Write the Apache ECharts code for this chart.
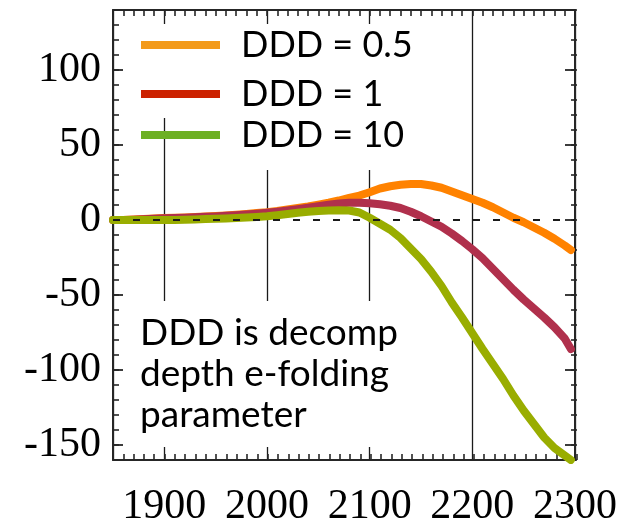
<!DOCTYPE html>
<html>
<head>
<meta charset="utf-8">
<script src="https://cdn.jsdelivr.net/npm/echarts@6.0.0/dist/echarts.min.js"></script>
<style>
  html, body { margin: 0; padding: 0; background: #ffffff; }
  #chart { width: 620px; height: 528px; }
</style>
</head>
<body>
<div id="chart"></div>
<script>
// ---- data ----
const years = [1850,1860,1870,1880,1890,1900,1910,1920,1930,1940,1950,1960,1970,1980,1990,
               2000,2010,2020,2030,2040,2050,2060,2070,2080,2090,2100,2110,2120,2130,2140,
               2150,2160,2170,2180,2190,2200,2210,2220,2230,2240,2250,2260,2270,2280,2290,2296];
const ddd05 = [0,0,0.3,0.6,1,1.3,1.5,1.7,2,2.3,2.6,3,3.5,4,4.6,
               5.2,6,7,8,9,10.2,11.5,13,14.8,16.3,18.5,21,22.5,23.5,24,
               24,23,21.5,19,16.5,14,11.5,8.5,5,1.5,-1.5,-5,-8.5,-12.5,-17,-20];
const ddd1  = [0,0,0.2,0.5,0.8,1.1,1.3,1.5,1.8,2.1,2.4,2.8,3.2,3.7,4.2,
               4.8,5.5,6.3,7.2,8.2,9.2,10.2,11,11.5,11.5,11.2,10.5,9.5,8,5.5,
               2.5,-1,-4.5,-9,-14,-19.5,-25.5,-32.5,-39.5,-46.5,-53,-59,-65,-71.5,-79,-86];
const ddd10 = [0,0,0,0,0,0,0,0.2,0.4,0.6,0.8,1,1.3,1.6,2,
               2.5,3.2,4,4.8,5.5,6,6.3,6.5,6.3,5,1.5,-2.5,-6.5,-12,-19,
               -26,-34.5,-44,-55,-65,-75.5,-86,-96,-106,-117,-127,-136,-145,-152,-157,-160];
const seriesNames = ['DDD = 0.5', 'DDD = 1', 'DDD = 10'];
const xTickLabels = [1900, 2000, 2100, 2200, 2300];
const yTickLabels = [-150, -100, -50, 0, 50, 100];
const noteText = 'DDD is decomp\ndepth e-folding\nparameter';

// ---- styling ----
const lineColors   = ['#FF8200', '#B0304C', '#99AD00'];
const legendColors = ['#F39A1A', '#CC2200', '#6DB024'];
const frame = '#262626';
const G = { left: 113, top: 10, width: 464, height: 450 };
const serifFont = 'Liberation Serif';
const sansFont = 'Lato';

const pairs = v => years.map((y, i) => [y, v[i]]);
const minorTick = { show: true, inside: true, length: 6, lineStyle: { color: frame, width: 1.6 } };
const majorTick = { show: true, inside: true, length: 10, lineStyle: { color: frame, width: 1.8 } };
const frameLine = { show: true, onZero: false, lineStyle: { color: frame, width: 2 } };
const noLine = { show: false, onZero: false };

const chart = echarts.init(document.getElementById('chart'), null, { renderer: 'canvas' });

function legendFor(i, top) {
  return {
    show: true,
    left: 141,
    top: top,
    orient: 'vertical',
    padding: 0,
    icon: 'rect',
    itemWidth: 79,
    itemHeight: 8,
    selectedMode: false,
    itemStyle: { borderWidth: 0 },
    textStyle: { fontFamily: sansFont, fontSize: 36, color: '#000', lineHeight: 40, padding: [0, 0, 0, 16] },
    data: [{ name: seriesNames[i], itemStyle: { color: legendColors[i], borderWidth: 0 } }]
  };
}

const option = {
  animation: false,
  backgroundColor: '#ffffff',
  grid: [Object.assign({}, G), Object.assign({}, G)],
  legend: [legendFor(0, 25), legendFor(1, 74), legendFor(2, 115)],
  xAxis: [
    { gridIndex: 0, type: 'value', position: 'bottom', min: 1850, max: 2300, splitNumber: 5,
      axisLine: frameLine, axisTick: { show: false },
      axisLabel: { show: true, margin: 26, color: '#000', fontFamily: serifFont, fontSize: 42,
                   formatter: v => (xTickLabels.indexOf(v) >= 0 ? String(v) : '') },
      splitLine: { show: true, lineStyle: { color: '#1a1a1a', width: 1.3 } } },
    { gridIndex: 0, type: 'value', position: 'top', min: 1850, max: 2300, interval: 10,
      axisLine: frameLine, axisTick: minorTick, axisLabel: { show: false }, splitLine: { show: false } },
    { gridIndex: 1, type: 'value', position: 'bottom', min: 1850, max: 2300, interval: 10,
      axisLine: noLine, axisTick: minorTick, axisLabel: { show: false }, splitLine: { show: false } }
  ],
  yAxis: [
    { gridIndex: 0, type: 'value', position: 'left', min: -160, max: 140, splitNumber: 6,
      axisLine: frameLine, axisTick: majorTick,
      axisLabel: { show: true, margin: 12, color: '#000', fontFamily: serifFont, fontSize: 42,
                   formatter: v => (yTickLabels.indexOf(v) >= 0 ? String(v) : '') },
      splitLine: { show: false } },
    { gridIndex: 0, type: 'value', position: 'right', min: -160, max: 140, splitNumber: 6,
      axisLine: frameLine, axisTick: majorTick, axisLabel: { show: false }, splitLine: { show: false } },
    { gridIndex: 1, type: 'value', position: 'left', min: -160, max: 140, interval: 10,
      axisLine: noLine, axisTick: minorTick, axisLabel: { show: false }, splitLine: { show: false } },
    { gridIndex: 1, type: 'value', position: 'right', min: -160, max: 140, interval: 10,
      axisLine: noLine, axisTick: minorTick, axisLabel: { show: false }, splitLine: { show: false } }
  ],
  series: [
    { name: seriesNames[0], type: 'line', xAxisIndex: 0, yAxisIndex: 0, data: pairs(ddd05),
      showSymbol: false, symbol: 'none', color: lineColors[0],
      lineStyle: { width: 8, color: lineColors[0], cap: 'round', join: 'round' } },
    { name: seriesNames[1], type: 'line', xAxisIndex: 0, yAxisIndex: 0, data: pairs(ddd1),
      showSymbol: false, symbol: 'none', color: lineColors[1],
      lineStyle: { width: 8, color: lineColors[1], cap: 'round', join: 'round' } },
    { name: seriesNames[2], type: 'line', xAxisIndex: 0, yAxisIndex: 0, data: pairs(ddd10),
      showSymbol: false, symbol: 'none', color: lineColors[2],
      lineStyle: { width: 8, color: lineColors[2], cap: 'round', join: 'round' },
      markLine: { silent: true, symbol: 'none', label: { show: false },
                  lineStyle: { color: '#1a1a1a', width: 2, type: [7, 13] },
                  data: [{ yAxis: 0 }] } }
  ],
  graphic: {
    elements: [
      { type: 'rect', z: 1, silent: true, shape: { x: 150, y: 24, width: 30, height: 94 },
        style: { fill: '#ffffff' } },
      { type: 'rect', z: 1, silent: true, shape: { x: 250, y: 24, width: 135, height: 146 },
        style: { fill: '#ffffff' } },
      { type: 'rect', z: 1, silent: true, shape: { x: 150, y: 301, width: 240, height: 146 },
        style: { fill: '#ffffff' } },
      { type: 'text', z: 10, silent: true, x: 140, y: 313,
        style: { text: noteText, fill: '#000', font: '37px ' + sansFont, lineHeight: 41,
                 textAlign: 'left', textVerticalAlign: 'top' } }
    ]
  }
};
chart.setOption(option);
</script>
</body>
</html>
